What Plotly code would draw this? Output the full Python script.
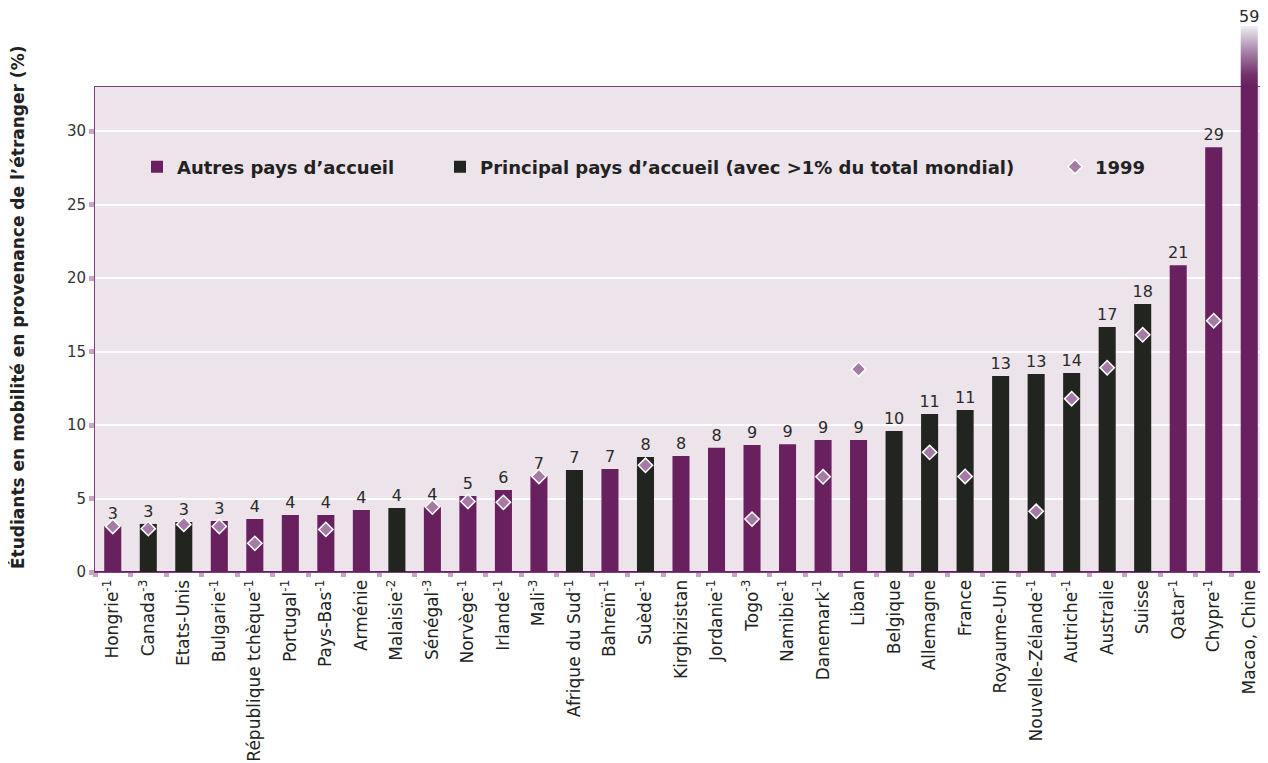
import plotly.graph_objects as go

# ---------------- data ----------------
categories = ["Hongrie", "Canada", "Etats-Unis", "Bulgarie", "République tchèque", "Portugal",
              "Pays-Bas", "Arménie", "Malaisie", "Sénégal", "Norvège", "Irlande", "Mali",
              "Afrique du Sud", "Bahreïn", "Suède", "Kirghizistan", "Jordanie", "Togo", "Namibie",
              "Danemark", "Liban", "Belgique", "Allemagne", "France", "Royaume-Uni",
              "Nouvelle-Zélande", "Autriche", "Australie", "Suisse", "Qatar", "Chypre", "Macao, Chine"]
ref_year = ["-1", "-3", "", "-1", "-1", "-1", "-1", "", "-2", "-3", "-1", "-1", "-3",
            "-1", "-1", "-1", "", "-1", "-3", "-1", "-1", "", "", "", "", "",
            "-1", "-1", "", "", "-1", "-1", ""]
values_2007 = [3.13, 3.27, 3.40, 3.47, 3.60, 3.88, 3.88, 4.22, 4.35, 4.42, 5.17, 5.58, 6.53,
               6.94, 7.00, 7.82, 7.89, 8.45, 8.64, 8.70, 8.98, 8.98, 9.59, 10.75, 11.02, 13.33,
               13.47, 13.54, 16.67, 18.23, 20.88, 28.9, 59.0]
principal = [0, 1, 1, 0, 0, 0, 0, 0, 1, 0, 0, 0, 0,
             1, 0, 1, 0, 0, 0, 0, 0, 0, 1, 1, 1, 1,
             1, 1, 1, 1, 0, 0, 0]
values_1999 = [3.1, 2.95, 3.24, 3.1, 1.95, None, 2.9, None, None, 4.42, 4.8, 4.74, 6.5,
               None, None, 7.26, None, None, 3.6, None, 6.48, 13.8, None, 8.14, 6.5, None,
               4.13, 11.79, 13.9, 16.14, None, 17.1, None]
legend_names = ["Autres pays d’accueil",
                "Principal pays d’accueil (avec >1% du total mondial)",
                "1999"]
y_title = "Étudiants en mobilité en provenance de l’étranger (%)"

# ---------------- style ----------------
FONT = "DejaVu Sans"
PURPLE = "#68205f"
DARK = "#22241f"
DIAMOND = "#a57ba5"
FRAME = "#7b3f7a"
TICKPINK = "#c9a4c7"
BG = "#ede3eb"
Y_MAX = 33
BAR_W = 0.48
n = len(categories)

# page body has an 8px margin: figure pixel = screen pixel - 8
W, L, R = 1260, 87, 1
H, T, B = 755, 18, 191
plot_w = W - L - R
plot_h = H - T - B
y_bottom = H - B          # 564
d = (y_bottom - 79) / plot_h  # top of main y domain

ticktext = [c + (f"<sup>{r}</sup>" if r else "") for c, r in zip(categories, ref_year)]

fig = go.Figure()

for flag, name, color, leg in [(0, legend_names[0], PURPLE, "legend"),
                               (1, legend_names[1], DARK, "legend2")]:
    xs = [c for c, p in zip(categories, principal) if p == flag]
    ys = [v for v, p in zip(values_2007, principal) if p == flag]
    txt = [f"{v:.0f}" if v <= Y_MAX else "" for v in ys]
    fig.add_trace(go.Bar(
        x=xs, y=ys, name=name, legend=leg, width=BAR_W,
        marker=dict(color=color, line=dict(width=0)),
        text=txt, textposition="outside", cliponaxis=True, constraintext="none",
        textfont=dict(family=FONT, size=16, color="#2a2a2a"),
        hoverinfo="x+y",
    ))

xs99 = [c for c, v in zip(categories, values_1999) if v is not None]
ys99 = [v for v in values_1999 if v is not None]
fig.add_trace(go.Scatter(
    x=xs99, y=ys99, name=legend_names[2], legend="legend3", mode="markers",
    marker=dict(symbol="diamond", size=11, color=DIAMOND, line=dict(color="white", width=1.5)),
))

# overflow of bars exceeding the axis range (broken bar with fading top)
for i, v in enumerate(values_2007):
    if v > Y_MAX:
        fig.add_trace(go.Scatter(
            x=[i - BAR_W / 2, i + BAR_W / 2, i + BAR_W / 2, i - BAR_W / 2, i - BAR_W / 2],
            y=[Y_MAX, Y_MAX, v, v, Y_MAX], xaxis="x2", yaxis="y2",
            mode="none", fill="toself",
            fillgradient=dict(type="vertical",
                              colorscale=[[0, PURPLE], [0.2, "#72306c"], [0.6, "#a888ad"],
                                          [1, "#f1ecf3"]]),
            showlegend=False, hoverinfo="skip",
        ))
        fig.add_trace(go.Scatter(
            x=[i], y=[v], xaxis="x2", yaxis="y2", mode="text",
            text=[f"{v:.0f}"], textposition="top center", cliponaxis=False,
            textfont=dict(family=FONT, size=16, color="#2a2a2a"),
            showlegend=False, hoverinfo="skip",
        ))

legend_common = dict(orientation="h", yanchor="middle", xanchor="left",
                     bgcolor="rgba(0,0,0,0)", borderwidth=0,
                     font=dict(family=FONT, size=18, color="#222", weight=700))
ly = (y_bottom - 159) / plot_h

fig.update_layout(
    width=W, height=H,
    margin=dict(l=L, r=R, t=T, b=B, autoexpand=False),
    paper_bgcolor="white", plot_bgcolor="rgba(0,0,0,0)",
    barmode="overlay",
    font=dict(family=FONT, color="#333"),
    legend=dict(x=(129 - L) / plot_w, y=ly, **legend_common),
    legend2=dict(x=(432 - L) / plot_w, y=ly, **legend_common),
    legend3=dict(x=(1047 - L) / plot_w, y=ly, **legend_common),
    xaxis=dict(type="category", categoryorder="array", categoryarray=categories,
               tickvals=categories, ticktext=ticktext, tickangle=-90,
               tickfont=dict(family=FONT, size=17, color="#222"),
               ticks="outside", tickson="boundaries", ticklen=4, tickwidth=5, tickcolor=TICKPINK,
               showline=True, mirror=True, linecolor=FRAME, linewidth=1,
               showgrid=False, range=[-0.5, n - 0.5], domain=[0, 1], anchor="y",
               automargin=False),
    yaxis=dict(domain=[0, d], range=[0, Y_MAX], dtick=5, tick0=0,
               tickfont=dict(family=FONT, size=15, color="#333"),
               ticks="outside", ticklen=5, tickwidth=5, tickcolor=TICKPINK,
               showline=True, mirror=True, linecolor=FRAME, linewidth=1,
               showgrid=True, gridcolor="white", gridwidth=2,
               zeroline=True, zerolinecolor=PURPLE, zerolinewidth=2, anchor="x",
               automargin=False),
    xaxis2=dict(domain=[0, 1], range=[-0.5, n - 0.5], anchor="y2", visible=False,
                automargin=False),
    yaxis2=dict(domain=[d, 1], range=[Y_MAX, max(values_2007)], anchor="x2", visible=False,
                automargin=False),
    shapes=[dict(type="rect", xref="x domain", yref="y domain", x0=0, x1=1, y0=0, y1=1,
                 fillcolor=BG, line=dict(width=0), layer="below")],
    annotations=[dict(text=y_title, textangle=-90, xref="paper", yref="paper",
                      x=(10 - L) / plot_w, y=(y_bottom - 300) / plot_h,
                      xanchor="center", yanchor="middle", showarrow=False,
                      font=dict(family=FONT, size=17, color="#222", weight=700))],
)

fig.write_html("out.html")
